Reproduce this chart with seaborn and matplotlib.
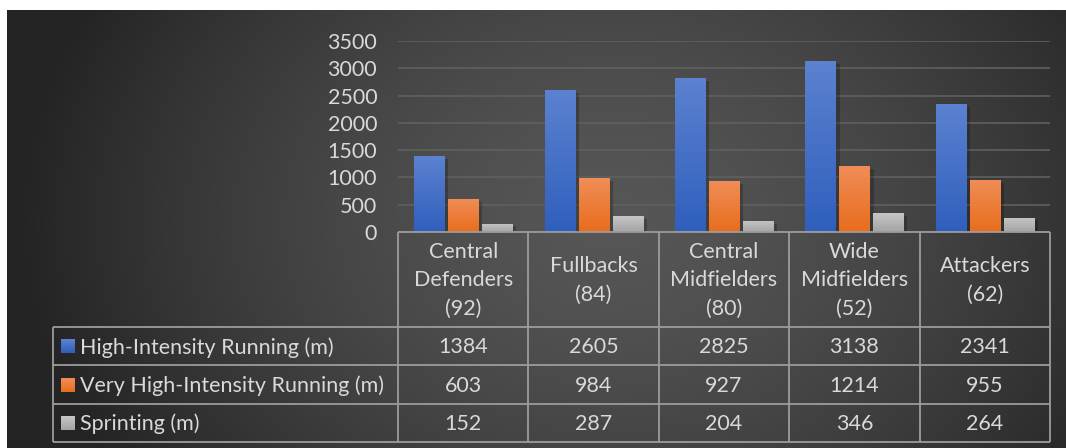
import numpy as np
import pandas as pd
import matplotlib
matplotlib.use("Agg")
import matplotlib.pyplot as plt
import seaborn as sns
from matplotlib import patheffects as pe

# ---- data -------------------------------------------------------------
positions = ["Central\nDefenders\n(92)", "Fullbacks\n(84)",
             "Central\nMidfielders\n(80)", "Wide\nMidfielders\n(52)",
             "Attackers\n(62)"]
series = ["High-Intensity Running (m)",
          "Very High-Intensity Running (m)",
          "Sprinting (m)"]
high_intensity = [1384, 2605, 2825, 3138, 2341]
very_high_intensity = [603, 984, 927, 1214, 955]
sprinting = [152, 287, 204, 346, 264]
y_ticks = [0, 500, 1000, 1500, 2000, 2500, 3000, 3500]

series_values = [high_intensity, very_high_intensity, sprinting]

# ---- styling ----------------------------------------------------------
mid_colors = ["#4472c4", "#ed7d31", "#b3b3b3"]
grad_colors = [("#5c82d0", "#2f5fbd"),
               ("#f08d58", "#e86d1c"),
               ("#c6c6c6", "#a4a4a4")]
TEXT = "#d9d9d9"
LINE = "#9c9c9c"
FS = 15.5

sns.set_theme(style="white")
plt.rcParams["font.family"] = ["Lato", "DejaVu Sans"]

W, H = 1066, 448
fig = plt.figure(figsize=(W / 100, H / 100), dpi=100, facecolor="white")


def px_box(x0, y0, x1, y1):
    """Pixel box (origin top-left) -> figure fraction rect."""
    return [x0 / W, 1 - y1 / H, (x1 - x0) / W, (y1 - y0) / H]


# ---- radial dark background -------------------------------------------
bg = fig.add_axes(px_box(7, 10, W, H), zorder=0)
bx0, by0, bx1, by1 = 7, 10, W, H
xx, yy = np.meshgrid(np.arange(bx0, bx1), np.arange(by0, by1))
r = np.sqrt(((xx - 610) / 590.0) ** 2 + ((yy - 220) / 460.0) ** 2)
r = np.clip(r, 0, 1)
val = (86 - 50 * r ** 1.5) / 255.0
bg.imshow(np.dstack([val, val, val]), extent=(bx0, bx1, by1, by0),
          aspect="auto", interpolation="bilinear")
bg.set_axis_off()

# ---- bar chart --------------------------------------------------------
ax = fig.add_axes(px_box(398, 41, 1050, 232), zorder=1)
ax.set_facecolor("none")

df = pd.DataFrame({
    "position": np.tile(positions, len(series)),
    "series": np.repeat(series, len(positions)),
    "value": np.concatenate(series_values),
})
sns.barplot(data=df, x="position", y="value", hue="series",
            order=positions, hue_order=series, palette=mid_colors,
            saturation=1, width=0.78, gap=0.115, errorbar=None,
            legend=False, ax=ax)

for container, (top, bottom) in zip(ax.containers, grad_colors):
    c_top = np.array(matplotlib.colors.to_rgb(top))
    c_bot = np.array(matplotlib.colors.to_rgb(bottom))
    t = np.linspace(0, 1, 128)[:, None, None]
    img = c_top * (1 - t) + c_bot * t
    for bar in container:
        bar.set_edgecolor("none")
        bar.set_path_effects([
            pe.SimplePatchShadow(offset=(3, -2), shadow_rgbFace="black",
                                 alpha=0.22),
            pe.Normal()])
        x0, w, h = bar.get_x(), bar.get_width(), bar.get_height()
        im = ax.imshow(img, extent=(x0, x0 + w, 0, h), origin="upper",
                       aspect="auto", interpolation="bilinear",
                       zorder=bar.get_zorder() + 0.1)
        im.set_clip_path(bar)

ax.set_xlim(-0.5, len(positions) - 0.5)
ax.set_ylim(0, 3500)
ax.set_yticks(y_ticks)
ax.set_yticklabels([str(v) for v in y_ticks])
ax.yaxis.grid(True, color="#606060", linewidth=1.2)
ax.xaxis.grid(False)
ax.set_axisbelow(True)
ax.tick_params(axis="y", length=0, pad=15, labelsize=FS, labelcolor=TEXT)
ax.tick_params(axis="x", bottom=False, labelbottom=False)
ax.set_xlabel("")
ax.set_ylabel("")
for s in ax.spines.values():
    s.set_visible(False)

# ---- data table -------------------------------------------------------
tb = fig.add_axes([0, 0, 1, 1], zorder=2)
tb.set_xlim(0, W)
tb.set_ylim(H, 0)
tb.set_facecolor("none")
tb.set_axis_off()

n = len(positions)
edges = [ax.transData.transform((i - 0.5, 0))[0] for i in range(n + 1)]
table_top = H - ax.transData.transform((0, 0))[1]
header_bot = 327
row_edges = [327, 365.5, 404, 442]
legend_left = 53
line_kw = dict(color=LINE, linewidth=1.3, solid_capstyle="butt")

# horizontal rules
tb.plot([edges[0], edges[-1]], [table_top, table_top], **line_kw)
for y in row_edges:
    tb.plot([legend_left, edges[-1]], [y, y], **line_kw)
# vertical rules
for x in edges:
    tb.plot([x, x], [table_top, row_edges[-1]], **line_kw)
tb.plot([legend_left, legend_left], [row_edges[0], row_edges[-1]], **line_kw)

# header cells
for i, label in enumerate(positions):
    cx = (edges[i] + edges[i + 1]) / 2
    tb.text(cx, (table_top + header_bot) / 2 + 1, label, ha="center",
            va="center", fontsize=FS, color=TEXT, linespacing=1.53,
            multialignment="center")

# series rows
for k, (name, vals, col) in enumerate(zip(series, series_values, grad_colors)):
    y0, y1 = row_edges[k], row_edges[k + 1]
    cy = (y0 + y1) / 2
    sq = 14
    c_top = np.array(matplotlib.colors.to_rgb(col[0]))
    c_bot = np.array(matplotlib.colors.to_rgb(col[1]))
    t = np.linspace(0, 1, 32)[:, None, None]
    tb.imshow(c_top * (1 - t) + c_bot * t,
              extent=(61, 61 + sq, cy + sq / 2, cy - sq / 2),
              aspect="auto", interpolation="bilinear", zorder=3)
    tb.text(80, cy + 1, name, ha="left", va="center", fontsize=FS,
            color=TEXT)
    for i, v in enumerate(vals):
        cx = (edges[i] + edges[i + 1]) / 2
        tb.text(cx, cy + 1, str(v), ha="center", va="center", fontsize=FS,
                color=TEXT)

tb.set_xlim(0, W)
tb.set_ylim(H, 0)

fig.savefig("out.png", dpi=100, facecolor="white")
